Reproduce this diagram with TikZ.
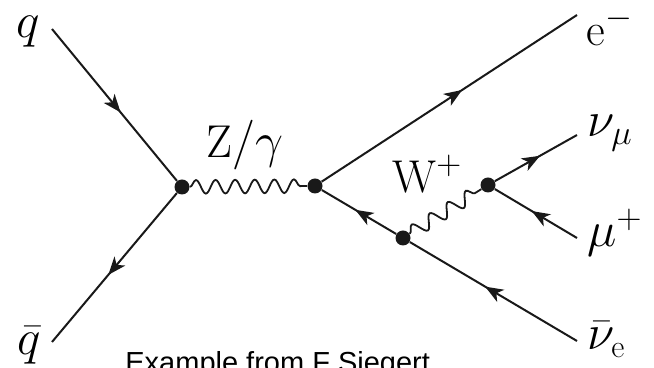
\documentclass[tikz,border=0pt]{standalone}
\usepackage{fontspec}
\usepackage{amsmath}
\usetikzlibrary{arrows.meta,decorations.pathmorphing,decorations.markings}
\newfontfamily\notefamily{Liberation Sans}
\definecolor{lineColor}{RGB}{25,25,25}
\newcommand{\lblfont}{\fontsize{23}{27}\selectfont}
\newcommand{\notefont}{\fontsize{14.5}{17}\selectfont\notefamily}

\begin{document}
\begin{tikzpicture}[
        x=0.5pt, y=-0.5pt,
        vtx/.style={circle, fill=lineColor, inner sep=0pt, minimum size=7.5pt},
        lbl/.style={inner sep=0pt, font=\lblfont},
        fermion/.style={draw=lineColor, line width=1pt, postaction={decorate},
          decoration={markings, mark=at position 0.55 with {\arrow{Stealth[length=9pt, width=7pt, inset=2.5pt]}}}},
        photon/.style={draw=lineColor, line width=0.9pt, decorate,
          decoration={snake, amplitude=3.4pt, segment length=10.5pt}}
      ]
      \useasboundingbox (0,0) rectangle (654,368);
      % vertices
      \node[vtx] (v1) at (182,187) {};
      \node[vtx] (v2) at (315,186) {};
      \node[vtx] (v3) at (403,238) {};
      \node[vtx] (v4) at (488,185) {};
      % free ends
      \coordinate (qin) at (52,29);
      \coordinate (qbout) at (52,342);
      \coordinate (eout) at (577,15);
      \coordinate (numout) at (577,135);
      \coordinate (muin) at (577,238);
      \coordinate (nuein) at (577,341);
      % labels
      \node[lbl] (lq) at (28,32) {$q$};
      \node[lbl] (lqb) at (29,345) {$\bar{q}$};
      \node[lbl, anchor=base west] (lzg) at (206,158) {$\mathrm{Z}/\gamma$};
      \node[lbl, anchor=base west] (lw) at (392,193) {$\mathrm{W}^{+}$};
      \node[lbl, anchor=base west] (le) at (586,46) {$\mathrm{e}^{-}$};
      \node[lbl, anchor=base west] (lnum) at (587,137) {$\nu_{\mu}$};
      \node[lbl, anchor=base west] (lmu) at (587,247) {$\mu^{+}$};
      \node[lbl, anchor=base west] (lnue) at (587,350) {$\bar{\nu}_{\mathrm{e}}$};
      \node[anchor=base west, inner sep=0pt, font=\notefont] (note) at (125,373) {Example from F Siegert};

      \draw[fermion] (qin) -- (v1);
      \draw[fermion] (v1) -- (qbout);
      \draw[photon, decoration={segment length=9.8pt}] (v1) -- (v2);
      \draw[fermion] (v2) -- (eout);
      \draw[fermion] (v3) -- (v2);
      \draw[fermion] (nuein) -- (v3);
      \draw[photon, decoration={segment length=10.6pt}] (v3) -- (v4);
      \draw[fermion] (v4) -- (numout);
      \draw[fermion] (muin) -- (v4);
    \end{tikzpicture}
\end{document}
